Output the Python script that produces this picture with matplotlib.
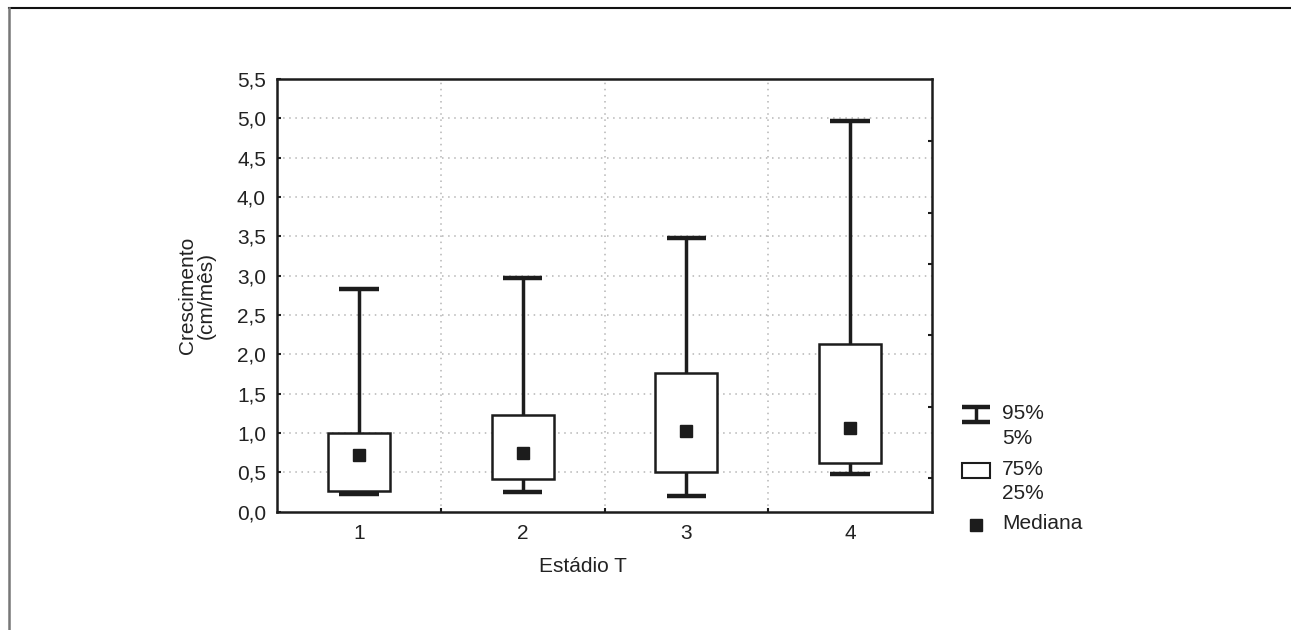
import matplotlib
matplotlib.use('Agg')
import matplotlib.pyplot as plt
from matplotlib.patches import Rectangle
from matplotlib.lines import Line2D

# values
stages = [1, 2, 3, 4]
p05 = [0.23, 0.25, 0.20, 0.48]
p25 = [0.26, 0.415, 0.51, 0.625]
median = [0.72, 0.74, 1.02, 1.06]
p75 = [1.00, 1.23, 1.765, 2.135]
p95 = [2.83, 2.97, 3.48, 4.97]
yticks = [0.0, 0.5, 1.0, 1.5, 2.0, 2.5, 3.0, 3.5, 4.0, 4.5, 5.0, 5.5]
ytick_labels = ['0,0', '0,5', '1,0', '1,5', '2,0', '2,5', '3,0', '3,5', '4,0', '4,5', '5,0', '5,5']
right_ticks = [0.43, 1.33, 2.25, 3.15, 3.80, 4.71]

plt.rcParams['font.family'] = ['Liberation Sans', 'DejaVu Sans']
dark = '#1c1c1c'
fs = 15

fig = plt.figure(figsize=(12.91, 6.30), dpi=100)
W, H = 1291, 630
ax = fig.add_axes([277 / W, 1 - 511.7 / H, (932 - 277) / W, (511.7 - 79) / H])

box_w = 0.38
cap_w = 0.24
for x, lo, q1, md, q3, hi in zip(stages, p05, p25, median, p75, p95):
    ax.plot([x, x], [lo, q1], color=dark, lw=2.5, zorder=3, solid_capstyle='butt')
    ax.plot([x, x], [q3, hi], color=dark, lw=2.5, zorder=3, solid_capstyle='butt')
    ax.plot([x - cap_w / 2, x + cap_w / 2], [lo, lo], color=dark, lw=3.2, zorder=3, solid_capstyle='butt')
    ax.plot([x - cap_w / 2, x + cap_w / 2], [hi, hi], color=dark, lw=3.2, zorder=3, solid_capstyle='butt')
    ax.add_patch(Rectangle((x - box_w / 2, q1), box_w, q3 - q1, facecolor='white',
                           edgecolor=dark, lw=1.8, zorder=4))
    ax.plot([x], [md], marker='s', ms=9, color=dark, mec=dark, zorder=5, ls='none')

ax.set_xlim(0.5, 4.5)
ax.set_ylim(0, 5.5)
ax.set_yticks(yticks)
ax.set_yticklabels(ytick_labels, fontsize=fs, color='#222222')
ax.set_xticks(stages)
ax.set_xticklabels([str(s) for s in stages], fontsize=fs, color='#222222')
ax.set_xticks([1.5, 2.5, 3.5], minor=True)
ax.tick_params(axis='x', which='major', length=0, pad=9)
ax.tick_params(axis='x', which='minor', direction='in', length=3, width=1.5, color=dark)
ax.tick_params(axis='y', direction='in', length=3, width=1.5, color=dark, pad=8)

for yv in yticks[1:-1]:
    ax.axhline(yv, color='#b5b5b5', lw=1.1, ls=(0, (1, 3)), zorder=1)
for xv in [1.5, 2.5, 3.5]:
    ax.axvline(xv, color='#b5b5b5', lw=1.1, ls=(0, (1, 3)), zorder=1)

for sp in ax.spines.values():
    sp.set_linewidth(1.8)
    sp.set_color(dark)

ax2 = ax.twinx()
ax2.set_ylim(0, 5.5)
ax2.set_yticks(right_ticks)
ax2.set_yticklabels([])
ax2.tick_params(axis='y', direction='in', length=3, width=1.5, color=dark)
for sp in ax2.spines.values():
    sp.set_visible(False)

ax.set_ylabel('Crescimento\n(cm/mês)', fontsize=fs, color='#222222', linespacing=1.0)
ax.yaxis.set_label_coords((216 - 277) / 655, 0.5)
fig.text(583 / W, 1 - 567 / H, 'Estádio T', fontsize=fs, color='#222222',
         ha='center', va='center')

# legend drawn in pixel space
lg = fig.add_axes([950 / W, 1 - 545 / H, 200 / W, 150 / H])
lg.set_xlim(950, 1150)
lg.set_ylim(545, 395)
lg.axis('off')
lg.plot([962, 990], [407.5, 407.5], color=dark, lw=3.2, solid_capstyle='butt')
lg.plot([962, 990], [422.5, 422.5], color=dark, lw=3.2, solid_capstyle='butt')
lg.plot([976, 976], [408, 422], color=dark, lw=2.5, solid_capstyle='butt')
lg.add_patch(Rectangle((962, 463), 28, 15, facecolor='white', edgecolor=dark, lw=1.5))
lg.plot([975.5], [525], marker='s', ms=9, color=dark, ls='none')
txt = dict(fontsize=fs, color='#222222', va='center', ha='left')
lg.text(1002, 414, '95%', **txt)
lg.text(1002, 439, '5%', **txt)
lg.text(1002, 470, '75%', **txt)
lg.text(1002, 494, '25%', **txt)
lg.text(1002, 524, 'Mediana', **txt)

# page frame lines at top and left
fig.add_artist(Line2D([8.5 / W, 1], [1 - 8 / H, 1 - 8 / H], color='#111111', lw=1.5))
fig.add_artist(Line2D([8.5 / W, 8.5 / W], [0, 1 - 8 / H], color='#777777', lw=1.8))

fig.savefig('out.png', dpi=100)
